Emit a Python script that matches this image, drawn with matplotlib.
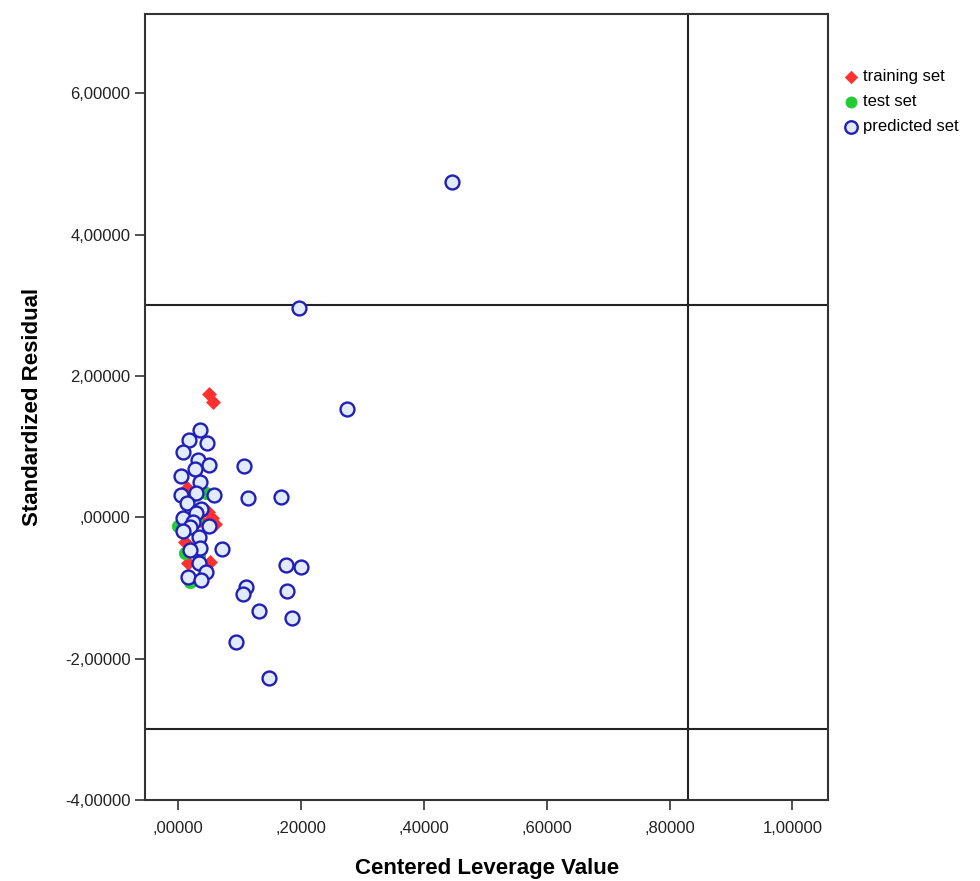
import matplotlib
matplotlib.use("Agg")
import matplotlib.pyplot as plt
from matplotlib.ticker import FuncFormatter

plt.rcParams['font.family'] = ['Liberation Sans', 'DejaVu Sans']

# Data (centered leverage, standardized residual)
train_x = [0.050, 0.057, 0.015, 0.049, 0.055, 0.060, 0.011, 0.016, 0.052, 0.036]
train_y = [1.74, 1.63, 0.41, 0.07, -0.01, -0.10, -0.35, -0.65, -0.64, -0.04]

test_x = [0.023, 0.046, 0.000, 0.011, 0.034, 0.020, 0.029]
test_y = [0.30, 0.35, -0.13, -0.50, -0.55, -0.92, -0.04]

pred_x = [0.446, 0.197, 0.275, 0.018, 0.036, 0.047, 0.007, 0.033, 0.050, 0.028,
          0.107, 0.005, 0.036, 0.005, 0.059, 0.114, 0.168, 0.029, 0.015, 0.037,
          0.029, 0.008, 0.024, 0.020, 0.050, 0.008, 0.034, 0.072, 0.036, 0.020,
          0.034, 0.176, 0.200, 0.046, 0.016, 0.037, 0.111, 0.177, 0.106, 0.132,
          0.186, 0.094, 0.148]
pred_y = [4.74, 2.96, 1.53, 1.09, 1.23, 1.05, 0.92, 0.81, 0.74, 0.68,
          0.72, 0.59, 0.50, 0.31, 0.31, 0.27, 0.28, 0.34, 0.20, 0.11,
          0.06, -0.01, -0.06, -0.14, -0.13, -0.20, -0.28, -0.45, -0.44, -0.47,
          -0.65, -0.68, -0.71, -0.78, -0.85, -0.89, -0.98, -1.05, -1.08, -1.32,
          -1.43, -1.76, -2.28]

x_ticks = [0.0, 0.2, 0.4, 0.6, 0.8, 1.0]
y_ticks = [-4, -2, 0, 2, 4, 6]
leverage_cut = 0.83
resid_cut = [3, -3]

fig = plt.figure(figsize=(9.8, 8.81), dpi=100)
ax = fig.add_axes([0.148, 0.092, 0.697, 0.892])

ax.scatter(train_x, train_y, marker='D', s=50, color='#ff3030', edgecolors='#ff3030',
           linewidths=0.5, label='training set', zorder=3)
ax.scatter(test_x, test_y, marker='o', s=80, color='#22cc33', edgecolors='#22cc33',
           linewidths=0.5, label='test set', zorder=3)
ax.scatter(pred_x, pred_y, marker='o', s=100, facecolors='#e2ebfb', edgecolors='#2020b8',
           linewidths=1.7, label='predicted set', zorder=4)

for yv in resid_cut:
    ax.axhline(yv, color='#222222', lw=1.5, zorder=2)
ax.axvline(leverage_cut, color='#222222', lw=1.5, zorder=2)

ax.set_xlim(-0.054, 1.058)
ax.set_ylim(-4.0, 7.12)
ax.set_xticks(x_ticks)
ax.set_yticks(y_ticks)

def fmt(v, pos=None):
    s = f"{v:.5f}".replace('.', ',')
    if s.startswith('0,'):
        s = s[1:]
    if s.startswith('-0,'):
        s = '-' + s[2:]
    return s

ax.xaxis.set_major_formatter(FuncFormatter(fmt))
ax.yaxis.set_major_formatter(FuncFormatter(fmt))
ax.tick_params(axis='both', labelsize=12, length=7, width=1.2, color='#333333',
               labelcolor='#222222', direction='out')
ax.tick_params(axis='x', pad=8)
for sp in ax.spines.values():
    sp.set_linewidth(1.5)
    sp.set_color('#333333')

ax.set_xlabel('Centered Leverage Value', fontsize=16, fontweight='bold', labelpad=16)
ax.set_ylabel('Standardized Residual', fontsize=16, fontweight='bold', labelpad=16)

leg = ax.legend(loc='upper left', bbox_to_anchor=(1.0, 0.947), frameon=False,
                fontsize=12, handletextpad=0.1, labelspacing=0.6, borderaxespad=0.4,
                markerscale=0.9, handlelength=1.2)

fig.savefig('out.png', dpi=100)
